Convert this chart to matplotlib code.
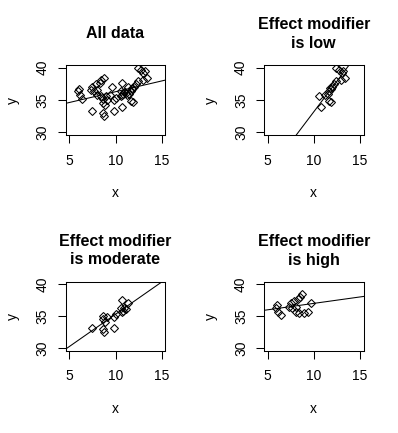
import matplotlib
matplotlib.use("Agg")
import matplotlib.pyplot as plt
import numpy as np

# effect modifier low
low_x = [12.45, 12.74, 13.2, 13.03, 13.39, 12.95, 12.45, 12.19, 12.01, 11.83,
         11.65, 11.51, 10.57, 11.22, 11.65, 11.87, 10.75, 11.76]
low_y = [39.9, 39.64, 39.54, 39.13, 38.47, 38.06, 37.86, 37.45, 36.99, 36.63,
         36.33, 35.97, 35.56, 35.71, 34.8, 34.64, 33.88, 36.84]

# effect modifier moderate
mod_x = [10.67, 11.39, 10.56, 10.92, 11.14, 10.85, 10.67, 10.05, 9.84, 9.04,
         8.68, 8.61, 8.86, 7.42, 8.61, 8.75, 9.84]
mod_y = [37.55, 37.03, 36.35, 36.25, 36.09, 35.89, 35.73, 35.31, 34.95, 34.95,
         35.1, 34.58, 34.17, 33.23, 32.97, 32.6, 33.23]

# effect modifier high
high_x = [8.76, 8.47, 8.33, 7.86, 7.49, 7.31, 6.05, 5.94, 6.16, 6.41,
          8.04, 9.66, 8.04, 8.4, 8.94, 9.41, 7.68]
high_y = [38.44, 38.07, 37.66, 37.4, 37.03, 36.51, 36.77, 36.35, 35.73, 35.21,
          36.51, 37.03, 35.73, 35.57, 35.57, 35.73, 36.35]

all_x = low_x + mod_x + high_x
all_y = low_y + mod_y + high_y

plt.rcParams['font.family'] = ['Liberation Sans', 'DejaVu Sans']

W, H = 398, 433
fig = plt.figure(figsize=(W / 100, H / 100), dpi=100)


def panel(left, top, bottom, title, xs, ys):
    # box given in pixels
    width = 99.6
    ax = fig.add_axes([left / W, 1 - bottom / H, width / W, (bottom - top) / H])
    h_px = bottom - top

    ax.plot(xs, ys, 'D', ms=3.9, mfc='none', mec='black', mew=0.75)
    m, b = np.polyfit(xs, ys, 1)
    ax.axline((0, b), slope=m, color='black', lw=0.75)

    ax.set_xlim(4.6, 15.4)
    ax.set_ylim(29.6, 40.4)
    ax.set_xticks([5, 10, 15])
    ax.set_yticks([30, 35, 40])
    ax.tick_params(length=6, width=0.75, labelsize=10)
    ax.tick_params(axis='x', pad=7.5)
    ax.tick_params(axis='y', pad=5.5, labelrotation=90)
    plt.setp(ax.get_yticklabels(), va='center')
    for s in ax.spines.values():
        s.set_linewidth(0.75)

    ax.set_xlabel('x', fontsize=10, va='center')
    ax.xaxis.set_label_coords(0.5, -58 / h_px)
    ax.set_ylabel('y', fontsize=10, va='center')
    ax.yaxis.set_label_coords(-52.7 / width, 0.5)

    ax.set_title(title, fontsize=11.5, fontweight='bold', y=1 + 31 / h_px,
                 pad=0, va='center', linespacing=1.3)
    return ax


panel(65.7, 65, 135, "All data", all_x, all_y)
panel(264, 65, 135, "Effect modifier\nis low", low_x, low_y)
panel(65.7, 281.7, 350.7, "Effect modifier\nis moderate", mod_x, mod_y)
panel(264, 281.7, 350.7, "Effect modifier\nis high", high_x, high_y)

fig.savefig("out.png", dpi=100)
